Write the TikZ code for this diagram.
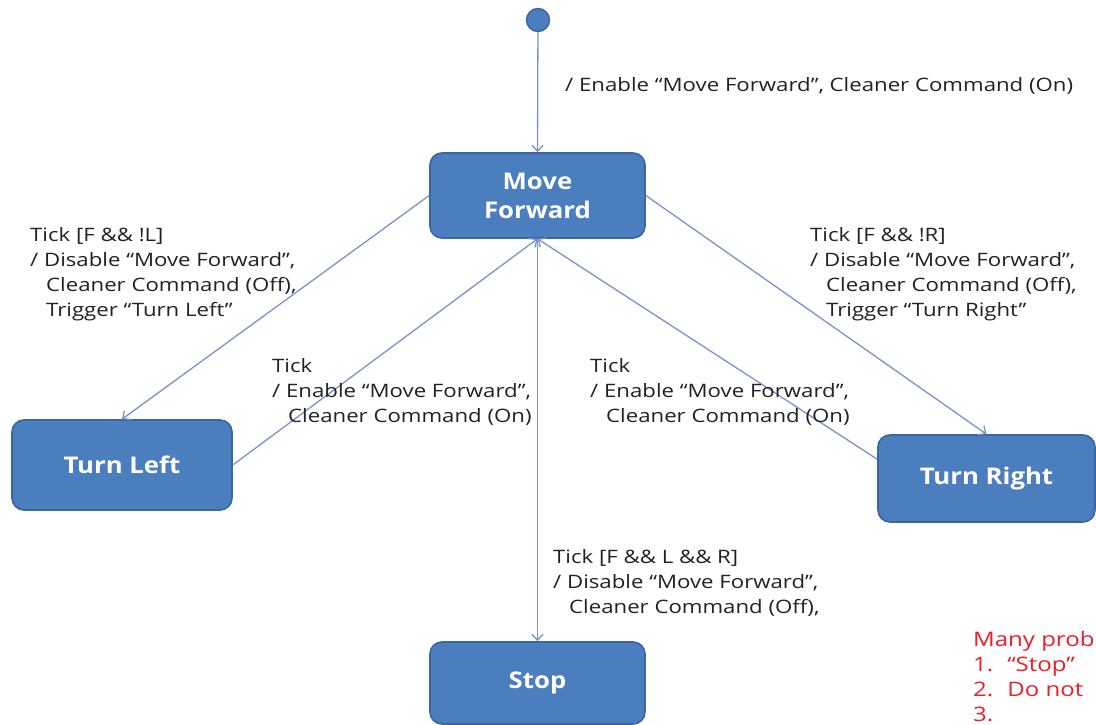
\documentclass[tikz,border=0pt]{standalone}
\usepackage{fontspec}
\setmainfont{Open Sans}
\newfontfamily\labfont[FakeStretch=1.2]{Open Sans}
\newfontfamily\statefont[FakeStretch=1.12]{Open Sans}
\usetikzlibrary{arrows.meta}
\definecolor{boxfill}{HTML}{4A7EBE}
\definecolor{boxline}{HTML}{3A679E}
\definecolor{edgecol}{HTML}{7894C8}
\definecolor{labcol}{HTML}{222222}
\definecolor{redtxt}{HTML}{E8202A}
\begin{document}
\begin{tikzpicture}[x=1pt,y=-1pt,
  state/.style={draw=boxline,line width=1.6pt,fill=boxfill,rounded corners=12pt,
    text=white,font=\statefont\fontsize{23}{29}\selectfont\bfseries,align=center,inner sep=0pt},
  initst/.style={circle,draw=boxline,line width=1.4pt,fill=boxfill,minimum size=23pt,inner sep=0pt},
  trans/.style={draw=edgecol,line width=1.3pt,-{Straight Barb[length=6pt,width=11pt,line width=1.3pt]}},
  lab/.style={anchor=north west,inner sep=0pt,align=left,text=labcol,font=\labfont\fontsize{18.5}{25}\selectfont},
  redlab/.style={anchor=north west,inner sep=0pt,align=left,text=redtxt,font=\labfont\fontsize{20}{25}\selectfont}
]
\useasboundingbox (0,0) rectangle (1096,725);
\clip (0,0) rectangle (1096,725);
\fill[white] (0,0) rectangle (1096,725);

\node[initst] (init) at (538,20) {};
\node[state,minimum width=215pt,minimum height=85pt] (mf) at (537.5,195.5) {Move\\Forward};
\node[state,minimum width=220pt,minimum height=90pt] (tl) at (122,465) {Turn Left};
\node[state,minimum width=217pt,minimum height=87pt] (tr) at (986.5,478.5) {Turn Right};
\node[state,minimum width=215pt,minimum height=82pt] (stop) at (537.5,683) {Stop};

\draw[trans] (init) -- (mf.north);
\draw[trans] (mf.west) -- (tl.north);
\draw[trans] (tl.east) -- (mf.south);
\draw[trans] (mf.east) -- (tr.north);
\draw[trans] (tr.170) -- (mf.south);
\draw[trans] (mf.south) -- (stop.north);

\node[lab] (l0) at (565,77) {/ Enable “Move Forward”, Cleaner Command (On)};
\node[lab] (l1) at (30,227) {Tick [F \&\& !L]\\/ Disable “Move Forward”,\\\hspace*{16pt}Cleaner Command (Off),\\\hspace*{16pt}Trigger “Turn Left”};
\node[lab] (l2) at (272,358) {Tick\\/ Enable “Move Forward”,\\\hspace*{16pt}Cleaner Command (On)};
\node[lab] (l3) at (810,227) {Tick [F \&\& !R]\\/ Disable “Move Forward”,\\\hspace*{16pt}Cleaner Command (Off),\\\hspace*{16pt}Trigger “Turn Right”};
\node[lab] (l4) at (590,358) {Tick\\/ Enable “Move Forward”,\\\hspace*{16pt}Cleaner Command (On)};
\node[lab] (l5) at (553,549) {Tick [F \&\& L \&\& R]\\/ Disable “Move Forward”,\\\hspace*{16pt}Cleaner Command (Off),};
\node[redlab] (r1) at (973,631) {Many prob\\1.\hspace*{14pt}“Stop”\\2.\hspace*{14pt}Do not\\3.};
\end{tikzpicture}
\end{document}
